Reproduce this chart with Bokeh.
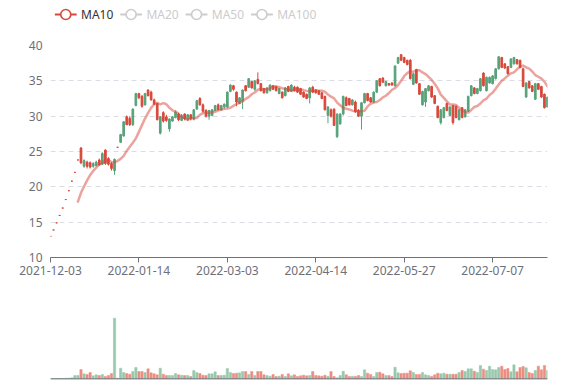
from bokeh.plotting import figure
from bokeh.models import Range1d, FixedTicker, Span
from bokeh.layouts import column
from bokeh.core.properties import value
from bokeh.embed import file_html
from bokeh.resources import INLINE

# ---------------- data ----------------
shown_dates = ["2021-12-03", "2022-01-14", "2022-03-03", "2022-04-14", "2022-05-27", "2022-07-07"]
shown_idx = [0, 29, 58, 87, 116, 145]

opens = [13.0, 13.9, 14.9, 15.95, 17.0, 18.2, 19.45, 20.8, 22.05, 23.8,
         23.4, 23.7, 22.9, 22.8, 23.3, 23.5, 23.1, 24.7, 23.3, 23.2,
         22.6, 23.9, 25.6, 27.4, 29.2, 28.8, 28.8, 31.0, 33.2, 32.6,
         31.4, 33.2, 32.9, 32.3, 31.7, 29.5, 29.9, 29.3, 29.4, 29.6,
         29.9, 30.6, 29.5, 30.1, 29.6, 30.2, 29.6, 30.9, 32.2, 31.6,
         30.7, 30.0, 30.8, 30.9, 31.5, 30.9, 31.5, 31.7, 33.4, 34.4,
         33.8, 32.0, 32.6, 33.7, 33.6, 35.3, 34.0, 35.0, 34.6, 33.6,
         33.3, 34.0, 34.4, 33.8, 33.6, 33.9, 32.6, 34.0, 33.5, 34.4,
         33.6, 33.4, 33.1, 32.7, 32.5, 34.0, 33.4, 33.3, 33.1, 32.5,
         30.9, 31.3, 30.0, 28.7, 30.3, 30.3, 32.8, 31.5, 31.6, 32.3,
         30.6, 30.0, 31.9, 33.2, 32.2, 32.0, 33.4, 35.0, 34.3, 34.8,
         34.9, 34.4, 34.4, 37.1, 38.3, 37.9, 37.6, 37.3, 35.3, 36.0,
         34.7, 33.1, 33.5, 33.9, 34.3, 32.7, 31.8, 29.8, 30.9, 31.2,
         30.8, 31.3, 29.1, 29.8, 30.9, 29.8, 30.9, 32.8, 34.3, 33.2,
         33.9, 35.3, 34.3, 35.5, 35.5, 35.7, 36.7, 38.4, 36.9, 36.8,
         36.0, 38.1, 38.3, 37.4, 36.9, 34.2, 34.7, 34.0, 33.5, 34.6,
         33.8, 32.7, 31.2, 32.7]
closes = [13.0, 13.9, 14.9, 15.95, 17.0, 18.2, 19.45, 20.8, 22.05, 23.8,
          25.5, 22.9, 23.5, 23.4, 22.9, 23.0, 23.8, 23.2, 25.2, 24.0,
          23.3, 22.3, 25.6, 26.3, 27.2, 29.9, 29.7, 28.8, 31.5, 33.2,
          32.8, 31.6, 33.7, 33.4, 32.3, 31.8, 27.6, 30.5, 29.9, 28.2,
          29.3, 29.8, 30.3, 29.4, 30.3, 29.5, 30.2, 29.6, 31.0, 32.5,
          31.6, 30.8, 30.0, 30.1, 30.8, 31.6, 30.9, 31.3, 31.3, 33.5,
          34.3, 33.4, 31.8, 32.1, 34.3, 34.1, 34.9, 33.8, 35.2, 34.6,
          33.9, 33.3, 33.6, 34.3, 34.2, 33.2, 33.4, 32.9, 34.2, 33.5,
          34.1, 34.1, 33.9, 33.4, 33.1, 32.6, 34.1, 33.7, 33.6, 33.3,
          32.8, 30.1, 30.9, 31.0, 27.1, 28.9, 30.3, 32.6, 32.5, 31.6,
          32.0, 30.8, 30.0, 31.9, 33.2, 32.6, 32.0, 33.4, 35.3, 35.4,
          34.3, 34.6, 34.7, 34.3, 37.5, 38.7, 38.3, 37.9, 37.9, 34.5,
          36.6, 34.6, 31.6, 32.0, 33.6, 34.2, 32.9, 31.4, 29.1, 29.8,
          31.8, 30.1, 31.5, 31.4, 29.5, 31.2, 29.9, 30.7, 32.9, 34.0,
          33.2, 33.6, 36.1, 33.6, 34.7, 34.6, 35.3, 36.7, 38.3, 37.4,
          37.0, 36.9, 37.4, 38.0, 37.9, 36.7, 32.7, 34.9, 34.3, 32.4,
          34.6, 34.2, 33.1, 31.3]
lows = [13.0, 13.9, 14.9, 15.95, 17.0, 18.2, 19.45, 20.8, 22.05, 23.8,
        23.2, 22.7, 22.6, 22.6, 22.7, 22.9, 23.0, 23.1, 23.1, 23.0,
        22.3, 21.7, 25.6, 26.2, 27.1, 28.7, 28.6, 28.6, 31.4, 32.4,
        31.2, 31.5, 32.8, 32.2, 31.6, 29.4, 27.4, 29.1, 29.2, 27.8,
        29.2, 29.7, 29.3, 29.3, 29.4, 29.3, 29.4, 29.4, 30.9, 31.5,
        30.5, 29.8, 29.5, 30.0, 30.7, 30.8, 30.8, 31.1, 31.2, 33.4,
        33.6, 31.4, 31.7, 31.0, 33.5, 34.0, 33.9, 33.6, 34.5, 33.5,
        33.2, 33.2, 33.5, 33.7, 33.5, 33.1, 32.5, 32.8, 33.4, 33.4,
        33.5, 33.3, 33.0, 32.6, 32.4, 31.8, 33.3, 33.2, 33.0, 32.4,
        30.8, 29.0, 29.8, 28.6, 26.9, 28.8, 30.1, 31.4, 31.5, 31.5,
        30.5, 29.9, 28.1, 31.8, 32.1, 31.9, 31.9, 33.3, 34.2, 34.7,
        34.2, 34.3, 34.3, 34.2, 37.4, 37.8, 37.5, 37.2, 35.2, 34.4,
        34.6, 33.0, 31.5, 31.3, 33.5, 32.6, 31.7, 29.7, 28.8, 29.7,
        30.7, 30.0, 28.8, 29.7, 29.4, 29.7, 29.8, 30.6, 32.8, 33.1,
        33.1, 33.5, 34.2, 33.5, 34.6, 34.5, 35.2, 36.6, 36.8, 36.7,
        35.9, 36.8, 37.3, 37.3, 36.8, 34.1, 32.6, 33.9, 33.4, 32.3,
        33.7, 32.6, 31.1, 31.2]
highs = [13.0, 13.9, 14.9, 15.95, 17.0, 18.2, 19.45, 20.8, 22.05, 23.8,
         25.6, 23.9, 23.7, 23.6, 23.5, 23.7, 24.0, 24.9, 25.3, 24.2,
         23.5, 24.0, 25.6, 27.5, 29.3, 30.1, 30.0, 31.1, 33.3, 33.3,
         33.0, 33.3, 33.8, 33.6, 32.5, 31.9, 30.0, 30.7, 30.2, 29.7,
         30.0, 30.8, 30.5, 30.3, 30.4, 30.3, 30.3, 31.0, 32.3, 32.7,
         31.8, 31.0, 30.9, 31.0, 31.6, 31.8, 31.6, 31.8, 33.5, 34.5,
         34.4, 33.5, 32.7, 33.8, 34.4, 35.4, 35.0, 35.1, 36.2, 34.7,
         34.0, 34.1, 34.5, 34.4, 34.3, 34.0, 33.5, 34.1, 34.3, 34.5,
         34.3, 34.2, 34.0, 33.5, 33.2, 34.1, 34.3, 33.8, 33.7, 33.4,
         32.9, 31.4, 31.1, 31.1, 30.4, 30.4, 32.9, 32.8, 32.6, 32.4,
         32.2, 31.0, 32.0, 33.3, 33.3, 32.7, 33.5, 35.1, 35.4, 35.5,
         35.0, 34.7, 34.8, 37.2, 38.4, 38.8, 38.4, 38.0, 38.1, 36.1,
         36.7, 34.7, 33.6, 34.0, 34.4, 34.3, 33.0, 31.5, 31.0, 31.3,
         31.9, 31.4, 31.6, 31.5, 31.0, 31.3, 31.0, 32.9, 34.4, 34.1,
         34.0, 35.4, 36.2, 35.6, 35.6, 35.8, 36.8, 38.5, 38.4, 37.5,
         37.1, 38.2, 38.4, 38.1, 38.0, 36.8, 34.8, 35.0, 34.4, 34.7,
         34.7, 34.3, 33.2, 32.8]
volumes = [1, 1, 1, 1, 1, 2, 2, 3, 10, 10,
           28, 15, 13, 19, 9, 12, 10, 13, 7, 10,
           16, 182, 2, 32, 19, 16, 14, 22, 34, 22,
           22, 19, 30, 18, 15, 12, 32, 14, 10, 10,
           10, 16, 12, 11, 10, 10, 7, 25, 19, 16,
           11, 10, 15, 15, 21, 10, 10, 11, 31, 19,
           16, 17, 18, 22, 22, 13, 22, 10, 22, 22,
           12, 10, 8, 13, 7, 8, 13, 7, 15, 9,
           12, 7, 9, 11, 9, 10, 22, 10, 9, 8,
           11, 8, 22, 7, 3, 10, 23, 12, 7, 8,
           7, 10, 7, 27, 17, 13, 7, 19, 20, 15,
           10, 10, 7, 35, 18, 16, 17, 17, 24, 19,
           13, 13, 19, 12, 10, 7, 12, 17, 15, 17,
           14, 14, 14, 14, 19, 25, 22, 30, 30, 23,
           19, 40, 29, 25, 38, 28, 27, 34, 38, 28,
           31, 21, 42, 21, 34, 37, 33, 19, 16, 25,
           38, 27, 40, 25]

ma_names = ["MA10", "MA20", "MA50", "MA100"]
ma_active = [True, False, False, False]

n = len(closes)
assert len(opens) == n and len(lows) == n and len(highs) == n and len(volumes) == n

# ---------------- styles ----------------
UP = "#d9483b"
DOWN = "#58a27a"
UP_VOL = "#ec8d82"
DOWN_VOL = "#97c8ab"
MA_COLOR = "#d9483b"
INACTIVE = "#cccccc"
AXIS = "#6E7079"
GRID = "#dadde3"
FONT = "Noto Sans"
W = 570

xs = list(range(n))
sign = []
for i in range(n):
    if closes[i] > opens[i]:
        sign.append(1)
    elif closes[i] < opens[i]:
        sign.append(-1)
    else:
        sign.append(1 if i == 0 or closes[i - 1] <= closes[i] else -1)
candle_colors = [UP if s > 0 else DOWN for s in sign]
vol_colors = [UP_VOL if closes[i] > opens[i] else DOWN_VOL for i in range(n)]
body_top = [max(o, c) for o, c in zip(opens, closes)]
body_bot = [min(o, c) for o, c in zip(opens, closes)]

ma10 = [float("nan")] * 9 + [sum(closes[i - 9:i + 1]) / 10.0 for i in range(9, n)]

x_range = Range1d(0, n - 1)

# ---------------- legend strip (screen-pixel coordinates) ----------------
LEG_H = 30
lf = figure(width=W, height=LEG_H, x_range=Range1d(0, W), y_range=Range1d(LEG_H, 0),
            output_backend="svg", toolbar_location=None,
            x_axis_location=None, y_axis_location=None,
            min_border_left=0, min_border_right=0, min_border_top=0, min_border_bottom=0)
lf.grid.visible = False
lf.outline_line_color = None

item_step, icon_w, text_gap, left0, cy = 75, 25, 5, 5, 14
icon_x0 = [left0 + item_step * k for k in range(len(ma_names))]
icon_x1 = [x + icon_w for x in icon_x0]
icon_xc = [x + icon_w / 2 for x in icon_x0]
text_x = [x + icon_w + text_gap for x in icon_x0]
icon_cols = [MA_COLOR if a else INACTIVE for a in ma_active]
text_cols = ["#333333" if a else INACTIVE for a in ma_active]
cys = [cy] * len(ma_names)

lf.segment(x0=icon_x0, y0=cys, x1=icon_x1, y1=cys, line_color=icon_cols, line_width=2)
lf.scatter(x=icon_xc, y=cys, marker="circle", size=10, fill_color="white",
           line_color=icon_cols, line_width=1.6)
lf.text(x=text_x, y=cys, text=ma_names, text_color=text_cols,
        text_font=value(FONT), text_font_size=value("12px"),
        text_baseline="middle", text_align="left")

# ---------------- main candlestick chart ----------------
p = figure(width=W, height=252, x_range=x_range, y_range=Range1d(10, 40),
           output_backend="svg", toolbar_location=None,
           min_border_left=50, min_border_right=W - 547, min_border_top=15, min_border_bottom=25)
p.outline_line_color = None
p.xgrid.visible = False
p.ygrid.grid_line_color = GRID
p.ygrid.grid_line_dash = "5 4"
p.ygrid.grid_line_width = 1

p.yaxis.ticker = FixedTicker(ticks=[10, 15, 20, 25, 30, 35, 40])
p.yaxis.axis_line_color = None
p.yaxis.major_tick_line_color = None
p.yaxis.minor_tick_line_color = None
p.yaxis.major_tick_out = 0
p.yaxis.minor_tick_out = 0
p.yaxis.major_label_standoff = 8
p.yaxis.major_label_text_font = FONT
p.yaxis.major_label_text_font_size = "12px"
p.yaxis.major_label_text_color = AXIS

p.xaxis.ticker = FixedTicker(ticks=shown_idx)
p.xaxis.major_label_overrides = {i: d for i, d in zip(shown_idx, shown_dates)}
p.xaxis.axis_line_color = AXIS
p.xaxis.major_tick_line_color = AXIS
p.xaxis.minor_tick_line_color = None
p.xaxis.major_tick_in = 0
p.xaxis.major_tick_out = 5
p.xaxis.major_label_standoff = 3
p.xaxis.major_label_text_font = FONT
p.xaxis.major_label_text_font_size = "12px"
p.xaxis.major_label_text_color = AXIS

p.segment(x0=xs, y0=lows, x1=xs, y1=highs, line_color=candle_colors, line_width=1)
p.vbar(x=xs, width=0.55, top=body_top, bottom=body_bot,
       fill_color=candle_colors, line_color=candle_colors, line_width=1)
p.line(x=xs, y=ma10, line_color=MA_COLOR, line_alpha=0.5, line_width=2.5,
       line_join="round", line_cap="round")

# ---------------- volume chart ----------------
pv = figure(width=W, height=98, x_range=x_range, y_range=Range1d(-5, 265),
            output_backend="svg", toolbar_location=None,
            x_axis_location=None, y_axis_location=None,
            min_border_left=50, min_border_right=W - 547, min_border_top=8, min_border_bottom=0)
pv.outline_line_color = None
pv.grid.visible = False
pv.vbar(x=xs, width=0.75, top=volumes, bottom=0, fill_color=vol_colors,
        line_color=vol_colors, line_width=0.5)
pv.add_layout(Span(location=0, dimension="width", line_color=AXIS, line_width=1))

layout = column(lf, p, pv, spacing=0)
open("out.html", "w").write(file_html(layout, INLINE))
